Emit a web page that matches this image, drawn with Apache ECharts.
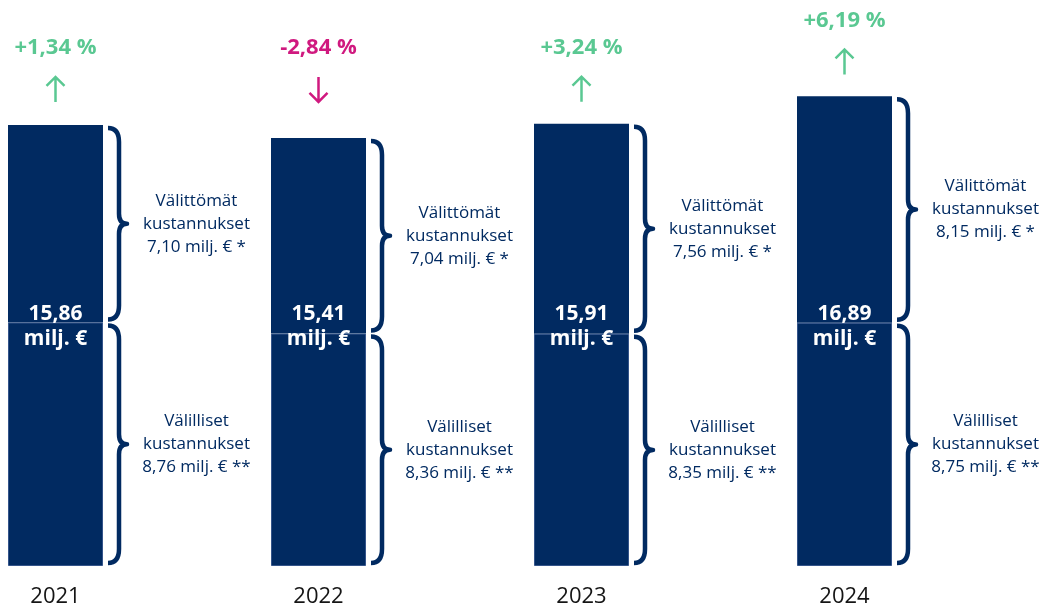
<!DOCTYPE html>
<html>
<head>
<meta charset="utf-8">
<script src="https://cdn.jsdelivr.net/npm/echarts@6/dist/echarts.min.js"></script>
<style>
html,body{margin:0;padding:0;background:#fff;}
#main{width:1048px;height:609px;}
</style>
</head>
<body>
<div id="main"></div>
<script>
// kustannukset vuosittain (milj. €)
const years = ["2021", "2022", "2023", "2024"];
const direct = [7.10, 7.04, 7.56, 8.15];
const indirect = [8.76, 8.36, 8.35, 8.75];
const totals = [15.86, 15.41, 15.91, 16.89];
const changes = [1.34, -2.84, 3.24, 6.19];

const directTitle = ["Välittömät", "kustannukset"];
const indirectTitle = ["Välilliset", "kustannukset"];

const NAVY = "#012a61";
const GREEN = "#5ac892";
const PINK = "#d0197f";
const FONT = "'Open Sans', 'Noto Sans', sans-serif";
const BAR_W = 95;
const LABEL_FLOOR = 15.9;  // muutoslukujen alin taso
const TOTAL_LEVEL = 8.6;   // summatekstin taso palkissa

const fmt = v => v.toFixed(2).replace(".", ",");

const chart = echarts.init(document.getElementById("main"));

// aaltosulkeet + tekstit
const braceData = [];
years.forEach((y, i) => {
  braceData.push([i, indirect[i], indirect[i] + direct[i], 0]);
  braceData.push([i, 0, indirect[i], 1]);
});

function renderBrace(params, api) {
  const i = api.value(0);
  const lo = api.value(1);
  const hi = api.value(2);
  const kind = api.value(3);
  const pTop = api.coord([i, hi]);
  const pBot = api.coord([i, lo]);
  const x0 = pTop[0] + BAR_W / 2 + 5;
  const y0 = pTop[1] + 3;
  const y1 = pBot[1] - 3;
  const ym = (y0 + y1) / 2;
  const xv = x0 + 11;
  const xt = x0 + 19;
  const d =
    "M" + x0 + "," + y0 +
    " Q" + xv + "," + y0 + " " + xv + "," + (y0 + 14) +
    " L" + xv + "," + (ym - 10) +
    " Q" + xv + "," + ym + " " + xt + "," + ym +
    " Q" + xv + "," + ym + " " + xv + "," + (ym + 10) +
    " L" + xv + "," + (y1 - 14) +
    " Q" + xv + "," + y1 + " " + x0 + "," + y1;
  const title = kind === 0 ? directTitle : indirectTitle;
  const val = kind === 0 ? direct[i] : indirect[i];
  const stars = kind === 0 ? " *" : " **";
  return {
    type: "group",
    children: [
      {
        type: "path",
        shape: { pathData: d },
        style: { fill: "none", stroke: NAVY, lineWidth: 4.5, lineJoin: "round" }
      },
      {
        type: "text",
        style: {
          text: title.concat([fmt(val) + " milj. €" + stars]).join("\n"),
          x: pTop[0] + 141,
          y: ym,
          align: "center",
          verticalAlign: "middle",
          fontSize: 17,
          lineHeight: 23,
          fontFamily: FONT,
          fill: NAVY
        }
      }
    ]
  };
}

// muutosprosentit, nuolet ja summat
const changeData = years.map((y, i) => [i, Math.max(totals[i], LABEL_FLOOR), changes[i], totals[i]]);

function renderChange(params, api) {
  const i = api.value(0);
  const ch = api.value(2);
  const p = api.coord([i, api.value(1)]);
  const mid = api.coord([i, TOTAL_LEVEL]);
  const x = p[0];
  const top = p[1];
  const up = ch >= 0;
  const col = up ? GREEN : PINK;
  const a1 = top - 47;
  const a2 = top - 22;
  const head = up
    ? "M" + (x - 9) + "," + (a1 + 9) + " L" + x + "," + a1 + " L" + (x + 9) + "," + (a1 + 9)
    : "M" + (x - 9) + "," + (a2 - 9) + " L" + x + "," + a2 + " L" + (x + 9) + "," + (a2 - 9);
  return {
    type: "group",
    children: [
      {
        type: "text",
        style: {
          text: (up ? "+" : "-") + fmt(Math.abs(ch)) + " %",
          x: x,
          y: top - 76,
          align: "center",
          verticalAlign: "middle",
          fontSize: 22,
          fontWeight: "bold",
          fontFamily: FONT,
          fill: col
        }
      },
      {
        type: "path",
        shape: { pathData: "M" + x + "," + a1 + " L" + x + "," + a2 + " " + head },
        style: { fill: "none", stroke: col, lineWidth: 2.5 }
      },
      {
        type: "text",
        style: {
          text: fmt(api.value(3)) + "\nmilj. €",
          x: x,
          y: mid[1],
          align: "center",
          verticalAlign: "middle",
          fontSize: 21,
          lineHeight: 25,
          fontWeight: "bold",
          fontFamily: FONT,
          fill: "#ffffff"
        }
      }
    ]
  };
}

const option = {
  backgroundColor: "#ffffff",
  animation: false,
  grid: { left: 55.5, right: 203.5, top: 10, bottom: 43 },
  xAxis: {
    type: "category",
    data: years,
    boundaryGap: false,
    axisLine: { show: false },
    axisTick: { show: false },
    axisLabel: {
      margin: 20,
      fontSize: 22,
      color: "#151515",
      fontFamily: FONT
    }
  },
  yAxis: {
    type: "value",
    min: 0,
    max: 20,
    show: false,
    splitLine: { show: false }
  },
  series: [
    {
      name: "Välilliset",
      type: "bar",
      stack: "total",
      barWidth: BAR_W,
      clip: false,
      data: indirect,
      itemStyle: { color: NAVY, borderColor: "#34548a", borderWidth: 1 },
      z: 2
    },
    {
      name: "Välittömät",
      type: "bar",
      stack: "total",
      barWidth: BAR_W,
      clip: false,
      data: direct,
      itemStyle: { color: NAVY },
      z: 1
    },
    {
      type: "custom",
      renderItem: renderBrace,
      data: braceData,
      clip: false,
      silent: true,
      z: 3
    },
    {
      type: "custom",
      renderItem: renderChange,
      data: changeData,
      clip: false,
      silent: true,
      z: 4
    }
  ]
};

chart.setOption(option);
window.addEventListener("resize", () => chart.resize());
</script>
</body>
</html>
